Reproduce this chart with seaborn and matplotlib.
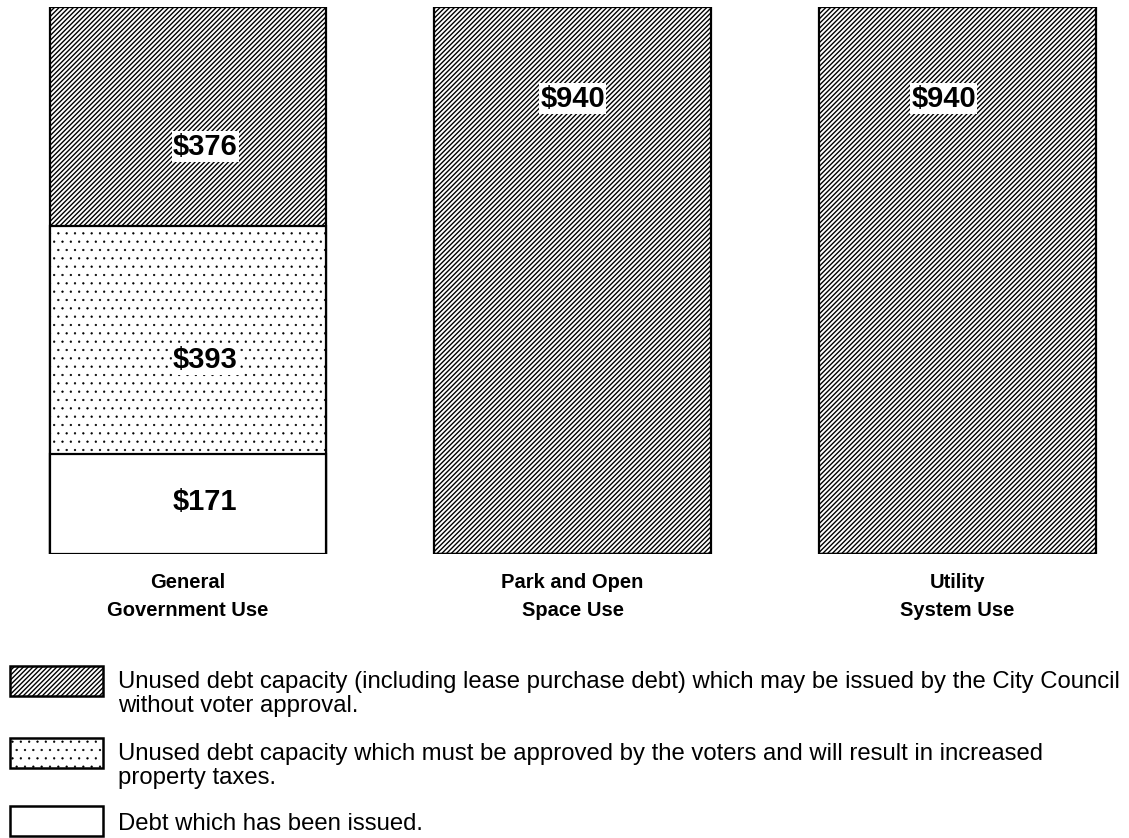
import seaborn as sns
import matplotlib.pyplot as plt
from matplotlib.patches import Rectangle

# data (values in $ millions)
categories = ["General\nGovernment Use", "Park and Open\nSpace Use", "Utility\nSystem Use"]
issued = [171, 0, 0]
voter_approval = [393, 0, 0]
council_unused = [376, 940, 940]

legend_texts = [
    "Unused debt capacity (including lease purchase debt) which may be issued by the City Council\nwithout voter approval.",
    "Unused debt capacity which must be approved by the voters and will result in increased\nproperty taxes.",
    "Debt which has been issued.",
]

sns.set_theme(style="white")
plt.rcParams["font.family"] = ["Liberation Sans", "DejaVu Sans"]
plt.rcParams["hatch.linewidth"] = 1.0
plt.rcParams["hatch.color"] = "black"

LINES = "///////"
DOTS = ".."

# cumulative tops for stacking
mid = [a + b for a, b in zip(issued, voter_approval)]
total = [m + c for m, c in zip(mid, council_unused)]

fig = plt.figure(figsize=(11.29, 8.38), dpi=100)
ax = fig.add_axes([0.0, 1 - 554 / 838, 1.0, 547 / 838])

bar_kw = dict(color="white", edgecolor="black", linewidth=1.6, width=0.72, ax=ax)
sns.barplot(x=categories, y=total, **bar_kw)
sns.barplot(x=categories, y=mid, **bar_kw)
sns.barplot(x=categories, y=issued, **bar_kw)

for cont, hatch in zip(ax.containers, [LINES, DOTS, None]):
    for p in cont.patches:
        p.set_facecolor("white")
        if hatch:
            p.set_hatch(hatch)
            if hatch == DOTS and hasattr(p, "set_hatch_linewidth"):
                p.set_hatch_linewidth(0.4)

ax.set_xlim(-0.489, 2.447)
ax.set_ylim(0, 940)
ax.set_yticks([])
sns.despine(ax=ax, left=True, bottom=True)
ax.tick_params(axis="x", length=0, pad=14, colors="black")
for lab in ax.get_xticklabels():
    lab.set_fontweight("bold")
    lab.set_fontsize(14.5)
    lab.set_linespacing(1.6)

# value labels: (bar index, value, x offset, y position)
labels = [
    (0, council_unused[0], 0.045, 700),
    (0, voter_approval[0], 0.045, 334),
    (0, issued[0], 0.045, 89),
    (1, council_unused[1], 0.0, 782),
    (2, council_unused[2], -0.035, 782),
]
for i, v, dx, y in labels:
    ax.text(i + dx, y, f"${v}", ha="center", va="center", fontsize=21,
            fontweight="bold", color="black",
            bbox=dict(facecolor="white", edgecolor="none", pad=1.0))

# legend drawn by hand at the bottom
W, H = 1129, 838
boxes = [(666, LINES), (738, DOTS), (806, None)]
text_y = [671, 743, 813]
for (top, hatch), ty, txt in zip(boxes, text_y, legend_texts):
    r = Rectangle((10 / W, 1 - (top + 30) / H), 93 / W, 30 / H,
                  transform=fig.transFigure, facecolor="white",
                  edgecolor="black", linewidth=1.8, hatch=hatch)
    if hatch == DOTS and hasattr(r, "set_hatch_linewidth"):
        r.set_hatch_linewidth(0.4)
    fig.add_artist(r)
    fig.text(118 / W, 1 - ty / H, txt, fontsize=17.2, ha="left", va="top",
             linespacing=1.1, color="black")

plt.savefig("out.png", dpi=100)
plt.close()
